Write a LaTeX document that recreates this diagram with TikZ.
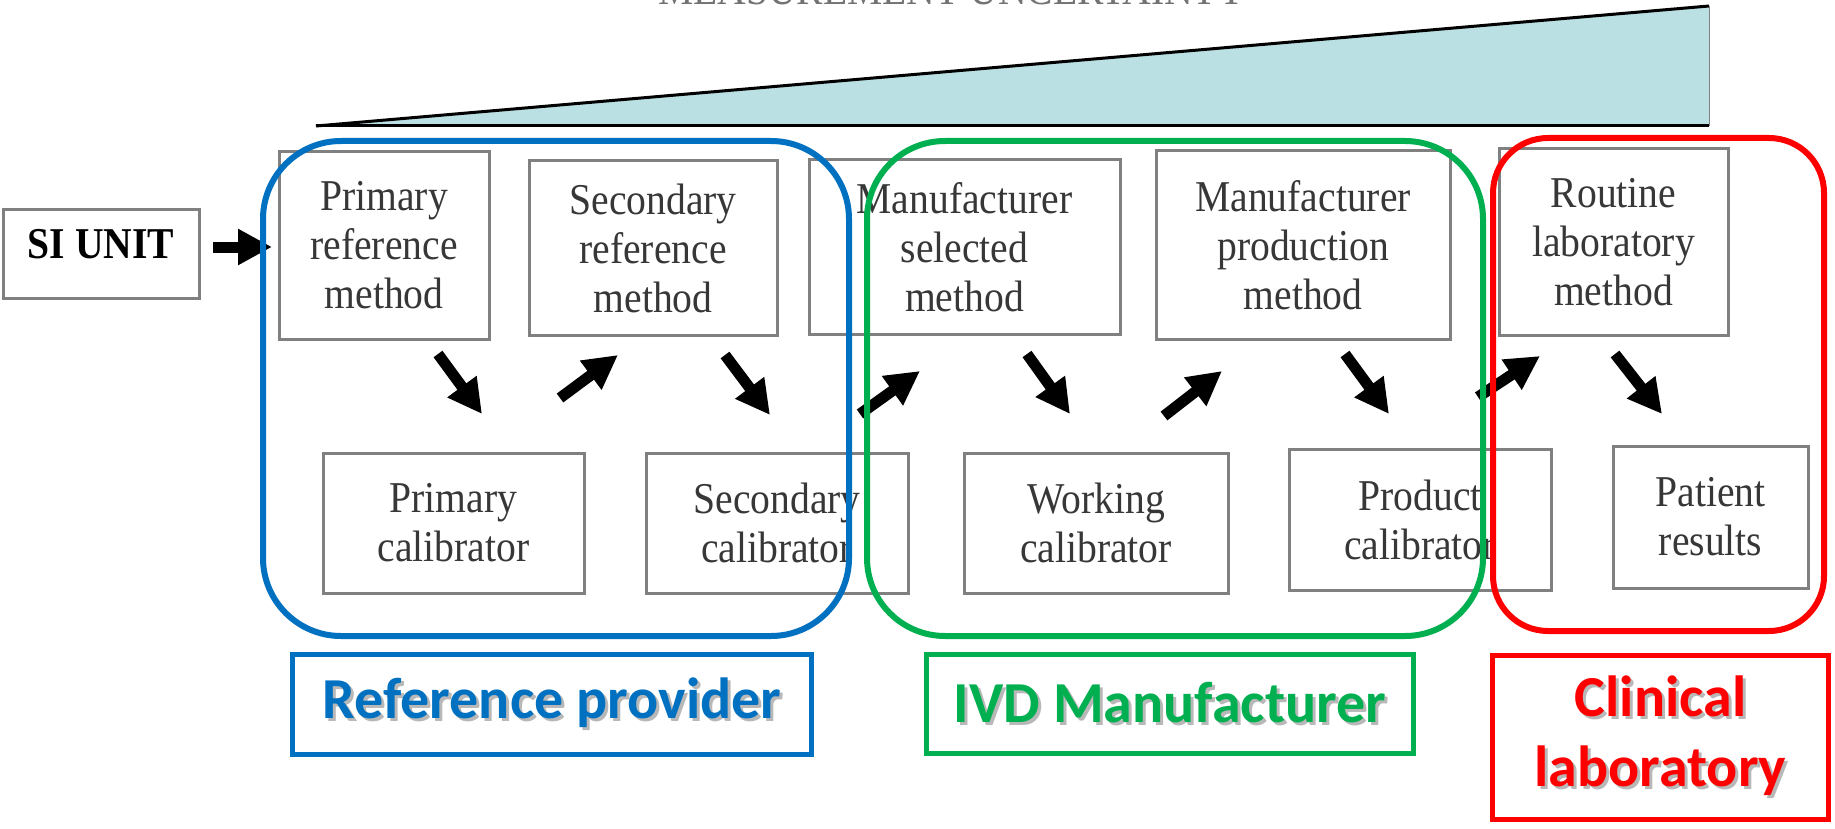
\documentclass[tikz,border=0pt]{standalone}
\usepackage{fontspec}
\setmainfont{Liberation Serif}
\newfontfamily\boxfont[FakeStretch=0.9]{Liberation Serif}
\newfontfamily\lblfont{Carlito}
\usetikzlibrary{arrows.meta}
\definecolor{rpblue}{RGB}{0,112,192}
\definecolor{ivdgreen}{RGB}{0,176,80}
\definecolor{clred}{RGB}{255,0,0}
\definecolor{trifill}{RGB}{187,224,227}
\definecolor{boxgray}{RGB}{128,128,128}
\definecolor{txtgray}{RGB}{55,55,55}
\newcommand\shtext[2]{\makebox[0pt][l]{\hspace{3pt}\raisebox{-3pt}{\color{black!28}#2}}{\color{#1}#2}}
\tikzset{
  stage/.style={draw=boxgray, line width=3pt, fill=white, inner sep=0pt, align=center,
    font=\boxfont\fontsize{44}{49}\selectfont, text=txtgray},
  grp/.style={line width=6pt, rounded corners=78pt},
  lbl/.style={draw, line width=5pt, inner sep=0pt, align=center,
    font=\lblfont\bfseries\fontsize{58}{70}\selectfont},
  blk/.style={line width=11pt, black, -{Triangle[length=34pt,width=34pt]}},
}
\begin{document}
\begin{tikzpicture}[x=1pt,y=-1pt]
\useasboundingbox (0,0) rectangle (1835,829);
\clip (0,0) rectangle (1835,829);
% uncertainty wedge
\fill[trifill] (316,126) -- (1709,6) -- (1709,126) -- cycle;
\draw[line width=3pt] (316,126) -- (1709,6);
\draw[line width=3pt] (316,126) -- (1709,126);
\draw[line width=1pt, boxgray] (1709,6) -- (1709,126);
\node[font=\boxfont\fontsize{44}{49}\selectfont, text=black!55, anchor=base, inner sep=0pt] (title) at (952,5) {MEASUREMENT UNCERTAINTY};
% stages
\node[stage, minimum width=196pt, minimum height=89pt, font=\boxfont\bfseries\fontsize{44}{49}\selectfont, text=black, text depth=20pt] (si) at (101,253.5) {SI UNIT};
\node[stage, minimum width=210pt, minimum height=187pt] (primref) at (384,245.5) {Primary\\reference\\method};
\node[stage, minimum width=248pt, minimum height=174pt] (secref) at (653,248) {Secondary\\reference\\method};
\node[stage, minimum width=311pt, minimum height=175pt] (manufsel) at (964.5,247) {Manufacturer\\selected\\method};
\node[stage, minimum width=294pt, minimum height=188pt] (manufprod) at (1303,245) {Manufacturer\\production\\method};
\node[stage, minimum width=229pt, minimum height=186pt] (routine) at (1613.5,242) {Routine\\laboratory\\method};
\node[stage, minimum width=261pt, minimum height=140pt] (primcal) at (453.5,523) {Primary\\calibrator};
\node[stage, minimum width=262pt, minimum height=140pt] (seccal) at (777,523) {Secondary\\calibrator};
\node[stage, minimum width=264pt, minimum height=140pt] (workcal) at (1096,523) {Working\\calibrator};
\node[stage, minimum width=262pt, minimum height=141pt] (prodcal) at (1420,520) {Product\\calibrator};
\node[stage, minimum width=195pt, minimum height=142pt] (patient) at (1710.5,517) {Patient\\results};
% arrow end points
\coordinate (a1s) at (213,247);  \coordinate (a1e) at (272,247);
\coordinate (a2s) at (438,354);  \coordinate (a2e) at (482,414);
\coordinate (a3s) at (560,398);  \coordinate (a3e) at (618,355);
\coordinate (a4s) at (725,355);  \coordinate (a4e) at (770,415);
\coordinate (a5s) at (860,414);  \coordinate (a5e) at (920,371);
\coordinate (a6s) at (1027,354); \coordinate (a6e) at (1070,414);
\coordinate (a7s) at (1164,416); \coordinate (a7e) at (1222,371);
\coordinate (a8s) at (1345,354); \coordinate (a8e) at (1389,414);
\coordinate (a9s) at (1478,397); \coordinate (a9e) at (1540,356);
\coordinate (a10s) at (1615,354); \coordinate (a10e) at (1662,414);
\foreach \i in {1,...,10} {\draw[blk] (a\i s) -- (a\i e);}
% groups
\draw[grp, rpblue] (263,141) rectangle (849,636);
\draw[grp, ivdgreen] (867,141) rectangle (1483,636);
\draw[grp, clred, rounded corners=55pt] (1493,138) rectangle (1824,631);
% labels
\node[lbl, draw=rpblue, minimum width=519pt, minimum height=100pt] (lrp) at (552,704.5) {\shtext{rpblue}{Reference provider}};
\node[lbl, draw=ivdgreen, minimum width=487pt, minimum height=99pt] (livd) at (1170,704) {\shtext{ivdgreen}{IVD Manufacturer}};
\node[lbl, draw=clred, minimum width=336pt, minimum height=164pt] (lcl) at (1660.5,737.5) {\shtext{clred}{Clinical}\\\shtext{clred}{laboratory}};
\end{tikzpicture}
\end{document}
